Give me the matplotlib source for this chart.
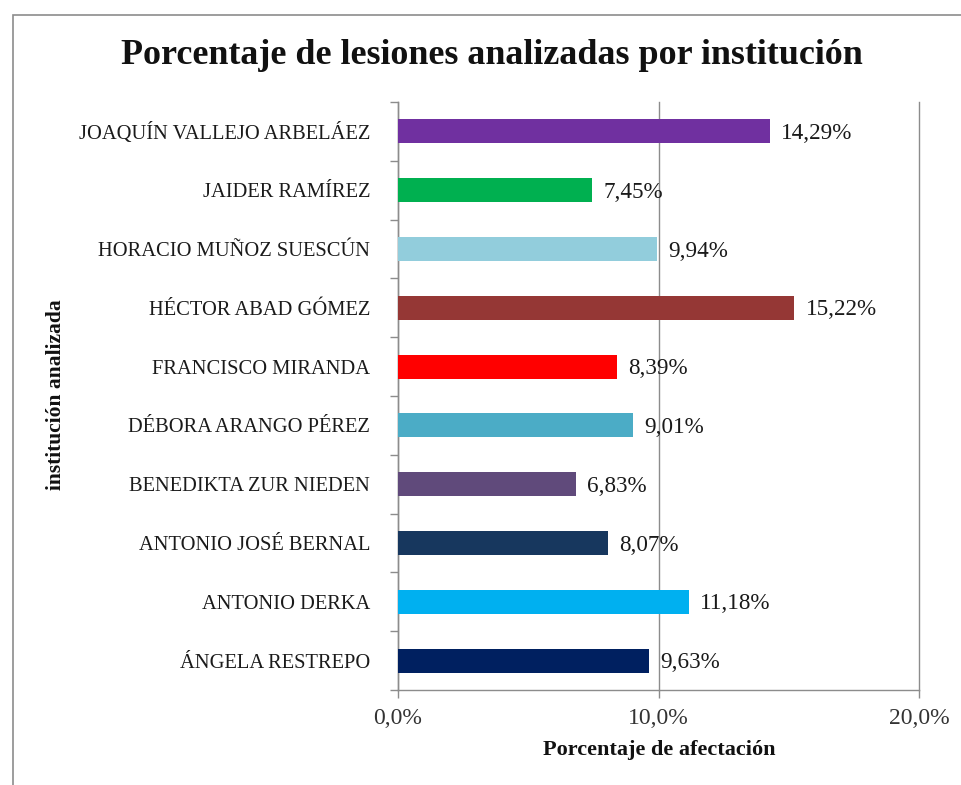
import matplotlib

matplotlib.use("Agg")
import matplotlib.pyplot as plt
from matplotlib.patches import Rectangle
from matplotlib.ticker import FixedLocator, FuncFormatter

# institutions, top to bottom as in the chart
institutions = [
    "JOAQUÍN VALLEJO ARBELÁEZ",
    "JAIDER RAMÍREZ",
    "HORACIO MUÑOZ SUESCÚN",
    "HÉCTOR ABAD GÓMEZ",
    "FRANCISCO MIRANDA",
    "DÉBORA ARANGO PÉREZ",
    "BENEDIKTA ZUR NIEDEN",
    "ANTONIO JOSÉ BERNAL",
    "ANTONIO DERKA",
    "ÁNGELA RESTREPO",
]
percentages = [14.29, 7.45, 9.94, 15.22, 8.39, 9.01, 6.83, 8.07, 11.18, 9.63]
bar_colors = [
    "#7030A0", "#00B050", "#92CDDC", "#953735", "#FF0000",
    "#4BACC6", "#604A7B", "#17375E", "#00B0F0", "#002060",
]
x_ticks = [0, 10, 20]

plt.rcParams["font.family"] = ["Liberation Serif", "DejaVu Serif"]

fig = plt.figure(figsize=(9.62, 7.85), dpi=100)
ax = fig.add_axes([398 / 962, 1 - 690 / 785, (919 - 398) / 962, (690 - 102) / 785])

pos = list(range(len(institutions)))
ax.barh(pos, percentages, height=0.41, color=bar_colors, zorder=3)

for p, v in zip(pos, percentages):
    ax.annotate(
        f"{v:.2f}%".replace(".", ","),
        (v, p),
        xytext=(8, -1.5),
        textcoords="offset points",
        va="center",
        ha="left",
        fontsize=16.7,
        color="#1a1a1a",
        zorder=4,
    )

ax.set_xlim(0, 20)
ax.set_ylim(len(institutions) - 0.5, -0.5)

ax.xaxis.set_major_locator(FixedLocator(x_ticks))
ax.xaxis.set_major_formatter(FuncFormatter(lambda x, _: f"{x:.1f}%".replace(".", ",")))
ax.tick_params(axis="x", length=6, width=1, color="#8c8c8c", labelsize=17,
               labelcolor="#333333", pad=7)

ax.set_yticks(pos)
ax.set_yticklabels(institutions)
ax.yaxis.set_minor_locator(FixedLocator([i - 0.5 for i in range(len(institutions) + 1)]))
ax.tick_params(axis="y", which="major", length=0, labelsize=14.75, pad=20,
               labelcolor="#1a1a1a")
ax.tick_params(axis="y", which="minor", length=6, width=1, color="#8c8c8c")

for side in ["top", "right"]:
    ax.spines[side].set_visible(False)
for side in ["left", "bottom"]:
    ax.spines[side].set_color("#8c8c8c")
    ax.spines[side].set_linewidth(1)
ax.grid(axis="x", color="#8c8c8c", linewidth=1, zorder=0)
for gl in ax.get_xgridlines():
    gl.set_clip_on(False)
ax.set_axisbelow(True)

fig.text(492 / 962, 1 - 55 / 785, "Porcentaje de lesiones analizadas por institución",
         ha="center", va="center", fontsize=25.9, fontweight="bold", color="#111111")
fig.text(659 / 962, 1 - 750 / 785, "Porcentaje de afectación",
         ha="center", va="center", fontsize=16, fontweight="bold", color="#111111")
fig.text(56 / 962, 1 - 395 / 785, "institución analizada", rotation=90,
         ha="center", va="center", fontsize=15.5, fontweight="bold", color="#111111")

# outer frame (only top and left edges are visible in the image)
fig.patches.append(Rectangle((13 / 962, -0.1), 1.2, 1.1 - 15 / 785,
                             transform=fig.transFigure, fill=False,
                             edgecolor="#8c8c8c", linewidth=1.2))

plt.savefig("out.png", dpi=100)
plt.close()
